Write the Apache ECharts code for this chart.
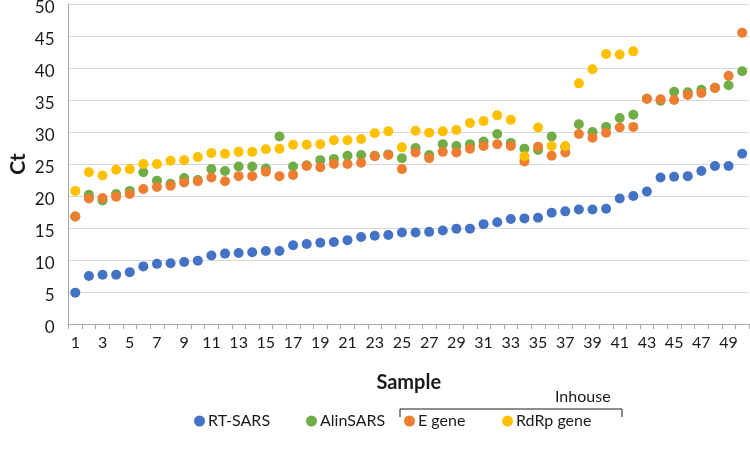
<!DOCTYPE html>
<html>
<head>
<meta charset="utf-8">
<script src="https://cdn.jsdelivr.net/npm/echarts@6/dist/echarts.min.js"></script>
<style>
html,body{margin:0;padding:0;background:#fff;}
#chart{width:750px;height:458px;}
</style>
</head>
<body>
<div id="chart"></div>
<script>
var samples = [];
for (var i = 1; i <= 50; i++) samples.push(String(i));

var rtSars = [4.9,7.5,7.7,7.7,8.1,9.0,9.4,9.5,9.7,9.9,
  10.7,11.0,11.1,11.2,11.4,11.4,12.3,12.5,12.7,12.8,
  13.1,13.6,13.8,13.9,14.3,14.3,14.4,14.6,14.9,14.9,
  15.6,15.9,16.4,16.5,16.6,17.4,17.6,17.9,17.9,18.0,
  19.6,20.0,20.7,22.9,23.0,23.1,23.9,24.7,24.7,26.6];

var alinSars = [16.8,20.2,19.3,20.3,20.8,23.7,22.4,21.9,22.8,22.5,
  24.2,23.9,24.6,24.6,24.3,29.3,24.6,24.8,25.6,25.8,
  26.3,26.4,26.3,26.5,25.9,27.5,26.4,28.1,27.8,28.1,
  28.5,29.7,28.3,27.4,27.2,29.3,27.7,31.2,30.0,30.8,
  32.2,32.7,35.2,34.9,36.3,36.2,36.6,36.9,37.3,39.5];

var eGene = [16.8,19.6,19.7,19.9,20.3,21.1,21.4,21.6,22.1,22.3,
  22.9,22.3,23.1,23.1,23.8,23.1,23.3,24.7,24.5,25.0,
  25.0,25.2,26.2,26.4,24.2,26.8,25.9,26.9,26.8,27.4,
  27.8,28.1,27.8,25.4,27.7,26.3,26.8,29.7,29.1,29.9,
  30.7,30.8,35.2,35.1,35.0,35.8,36.1,36.9,38.8,45.5];

var rdrpGene = [20.8,23.7,23.2,24.1,24.2,25.0,25.0,25.5,25.6,26.1,
  26.7,26.6,26.9,26.9,27.3,27.4,28.0,28.0,28.1,28.7,
  28.7,28.9,29.8,30.1,27.6,30.2,29.9,30.1,30.3,31.4,
  31.7,32.6,31.9,26.2,30.7,27.8,27.8,37.6,39.8,42.2,
  42.1,42.6,null,null,null,null,null,null,null,null];

var seriesNames = ['RT-SARS','AlinSARS','E gene','RdRp gene'];
var seriesColors = ['#4472C4','#70AD47','#ED7D31','#FFC000'];
var seriesData = [rtSars, alinSars, eGene, rdrpGene];

var FONT = 'Lato, "Noto Sans", sans-serif';
var chart = echarts.init(document.getElementById('chart'), null, {renderer:'canvas'});

var series = seriesNames.map(function(n, k){
  return {
    name: n, type: 'scatter', data: seriesData[k],
    symbol: 'circle', symbolSize: 10,
    itemStyle: {color: seriesColors[k], opacity: 1},
    z: 2 + k
  };
});

var legendLeft = [194, 306, 404, 502];
var legends = seriesNames.map(function(n, k){
  return {
    data: [{name: n, icon: 'circle'}],
    left: legendLeft[k], top: 413,
    itemWidth: 11, itemHeight: 11, itemGap: 0,
    padding: 0,
    textStyle: {fontFamily: FONT, fontSize: 16, color: '#1a1a1a', padding: [0,0,0,-2]},
    selectedMode: false
  };
});

chart.setOption({
  animation: false,
  backgroundColor: '#fff',
  grid: {left: 68.5, right: 1, top: 4, bottom: 134, containLabel: false, outerBoundsMode: 'none'},
  legend: legends,
  xAxis: {
    type: 'category', data: samples, boundaryGap: true,
    name: 'Sample', nameLocation: 'middle', nameGap: 49, nameMoveOverlap: false,
    nameTextStyle: {fontFamily: FONT, fontSize: 20, fontWeight: 'bold', color: '#1a1a1a'},
    axisLine: {lineStyle: {color: '#a6a6a6', width: 1}},
    axisTick: {show: true, interval: 0, length: 5, lineStyle: {color: '#a6a6a6'}},
    axisLabel: {interval: 1, margin: 11, fontFamily: FONT, fontSize: 16, color: '#1a1a1a'},
    splitLine: {show: false}
  },
  yAxis: {
    type: 'value', min: 0, max: 50, interval: 5,
    name: 'Ct', nameLocation: 'middle', nameGap: 40, nameMoveOverlap: false,
    nameTextStyle: {fontFamily: FONT, fontSize: 21, fontWeight: 'bold', color: '#1a1a1a'},
    axisLine: {show: true, lineStyle: {color: '#a6a6a6', width: 1}},
    axisTick: {show: false},
    axisLabel: {margin: 14, fontFamily: FONT, fontSize: 17, color: '#1a1a1a',
      formatter: function(v){ return '{a|' + v + '}'; },
      rich: {a: {fontFamily: FONT, fontSize: 17, color: '#1a1a1a', padding: [7,0,0,0]}}},
    splitLine: {lineStyle: {color: '#d9d9d9', width: 1}}
  },
  graphic: [
    {type: 'polyline', shape: {points: [[400,417],[400,409],[622,409],[622,417]]},
     style: {stroke: '#1a1a1a', lineWidth: 1, fill: null}},
    {type: 'text', left: 555, top: 389,
     style: {text: 'Inhouse', fontFamily: FONT, fontSize: 16, fill: '#1a1a1a'}}
  ],
  series: series
});
</script>
</body>
</html>
